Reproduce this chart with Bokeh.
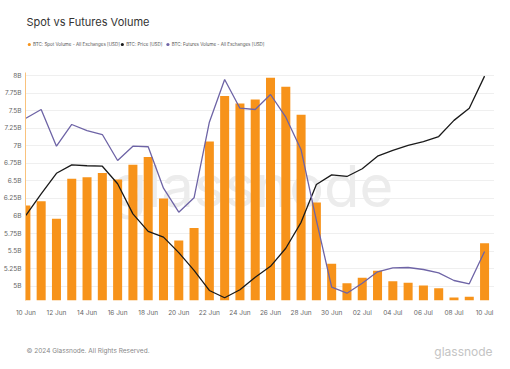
import pandas as pd
from bokeh.plotting import figure
from bokeh.layouts import column
from bokeh.models import Range1d, FixedTicker, DatetimeTickFormatter, Label, ColumnDataSource
from bokeh.core.properties import value
from bokeh.embed import file_html
from bokeh.resources import INLINE

# ---- data ----
dates = pd.date_range("2024-06-10", "2024-07-10", freq="D")
spot_volume_b = [6.15, 6.21, 5.96, 6.53, 6.55, 6.61, 6.52, 6.73, 6.84, 6.25, 5.65,
                 5.83, 7.06, 7.71, 7.60, 7.66, 7.97, 7.84, 7.44, 6.19, 5.32,
                 5.04, 5.12, 5.22, 5.07, 5.05, 5.01, 4.97, 4.84, 4.85, 5.61]
price_usd = [58730, 59680, 60580, 60950, 60910, 60890, 60120, 58800, 58030, 57780, 57100,
             56320, 55440, 55120, 55470, 56020, 56500, 57290, 58430, 60090, 60510,
             60440, 60780, 61330, 61580, 61800, 61970, 62190, 62900, 63430, 64840]
futures_volume_b = [51.98, 53.51, 47.07, 50.88, 49.82, 49.12, 44.56, 47.07, 46.97, 39.70, 35.49,
                    38.02, 51.28, 58.77, 53.74, 53.51, 56.14, 52.16, 46.44, 34.04, 22.33,
                    21.28, 23.04, 25.04, 25.74, 25.79, 25.44, 24.86, 23.51, 22.93, 28.60]
y_tick_values = [5.0, 5.25, 5.5, 5.75, 6.0, 6.25, 6.5, 6.75, 7.0, 7.25, 7.5, 7.75, 8.0]
y_tick_labels = ["5B", "5.25B", "5.5B", "5.75B", "6B", "6.25B", "6.5B", "6.75B",
                 "7B", "7.25B", "7.5B", "7.75B", "8B"]
x_tick_dates = dates[::2]

title_text = "Spot vs Futures Volume"
legend_names = ["BTC: Spot Volume - All Exchanges [USD]", "BTC: Price [USD]",
                "BTC: Futures Volume - All Exchanges [USD]"]
footer_text = "\u00a9 2024 Glassnode. All Rights Reserved."
brand_text = "glassnode"

ORANGE = "#F7931A"
BLACK = "#1a1a1a"
PURPLE = "#6e64a6"
FONT = "Inter"
W = 494

def blank(height, top, bottom):
    f = figure(width=W, height=height, x_range=Range1d(8, 8 + W), y_range=Range1d(bottom, top),
               x_axis_location=None, y_axis_location=None, output_backend="svg",
               toolbar_location=None, min_border=0)
    f.outline_line_color = None
    f.xgrid.visible = False
    f.ygrid.visible = False
    return f

# ---- header (title + legend) ----
head = blank(64, 0, 64)
head.text(x=[9], y=[21.5], text=[title_text], text_font=value(FONT), text_font_size="11px",
          text_color="#333333", text_baseline="middle")
leg_x = [12, 110, 158]
leg_colors = [ORANGE, BLACK, PURPLE]
head.scatter(x=leg_x, y=[44] * 3, size=3.2, marker="circle", fill_color=leg_colors, line_color=None)
head.text(x=[v + 4 for v in leg_x], y=[44] * 3, text=legend_names, text_font=value(FONT),
          text_font_size="4.5px", text_color="#555555", text_baseline="middle")

# ---- main chart ----
src = ColumnDataSource(dict(date=dates, spot=spot_volume_b, price=price_usd, fut=futures_volume_b))
day_ms = 86400000
x0 = dates[0].value // 10**6
p = figure(width=W, height=261, x_axis_type="datetime",
           x_range=Range1d(x0 - 0.025 * day_ms, x0 + 30.65 * day_ms),
           y_range=Range1d(4.796, 8.043),
           output_backend="svg", toolbar_location=None,
           min_border_left=21, min_border_right=0, min_border_top=8, min_border_bottom=25)
p.extra_y_ranges = {"price": Range1d(55000, 65000), "fut": Range1d(20, 60)}
p.outline_line_color = None

p.add_layout(Label(x=227, y=115, x_units="screen", y_units="screen", text="glassnode",
                   text_font=FONT, text_font_size="58px", text_color="#ececec",
                   text_align="center", text_baseline="middle", level="underlay"))

p.vbar(x="date", top="spot", bottom=4.796, width=0.59 * day_ms, source=src,
       fill_color=ORANGE, line_color=None)
p.line(x="date", y="price", source=src, y_range_name="price", line_color=BLACK, line_width=1.3)
p.line(x="date", y="fut", source=src, y_range_name="fut", line_color=PURPLE, line_width=1.3)

p.yaxis.ticker = FixedTicker(ticks=y_tick_values)
p.yaxis.major_label_overrides = {v: l for v, l in zip(y_tick_values, y_tick_labels)}
p.yaxis.axis_line_color = "#f9c27d"
p.yaxis.major_tick_out = 0
p.yaxis.major_tick_in = 0
p.yaxis.minor_tick_out = 0
p.yaxis.minor_tick_in = 0
p.yaxis.major_label_text_font = FONT
p.yaxis.major_label_text_font_size = "6.5px"
p.yaxis.major_label_text_color = "#666666"
p.yaxis.major_label_standoff = 4

p.xaxis.ticker = FixedTicker(ticks=[d.value // 10**6 for d in x_tick_dates])
p.xaxis.formatter = DatetimeTickFormatter(days="%d %b", months="%d %b")
p.xaxis.axis_line_color = None
p.xaxis.major_tick_out = 0
p.xaxis.major_tick_in = 0
p.xaxis.minor_tick_out = 0
p.xaxis.minor_tick_in = 0
p.xaxis.major_label_text_font = FONT
p.xaxis.major_label_text_font_size = "6.5px"
p.xaxis.major_label_text_color = "#666666"
p.xaxis.major_label_standoff = 8

p.xgrid.grid_line_color = None
p.ygrid.grid_line_color = "#efefef"

# ---- footer ----
foot = blank(36, 325, 361)
foot.text(x=[9], y=[350], text=[footer_text], text_font=value(FONT), text_font_size="6.5px",
          text_color="#888888", text_baseline="middle")
foot.text(x=[500], y=[351], text=[brand_text], text_font=value(FONT), text_font_size="12px",
          text_color="#c4c4c4", text_baseline="middle", text_align="right")

layout = column(head, p, foot, spacing=0)
open("out.html", "w").write(file_html(layout, INLINE))
